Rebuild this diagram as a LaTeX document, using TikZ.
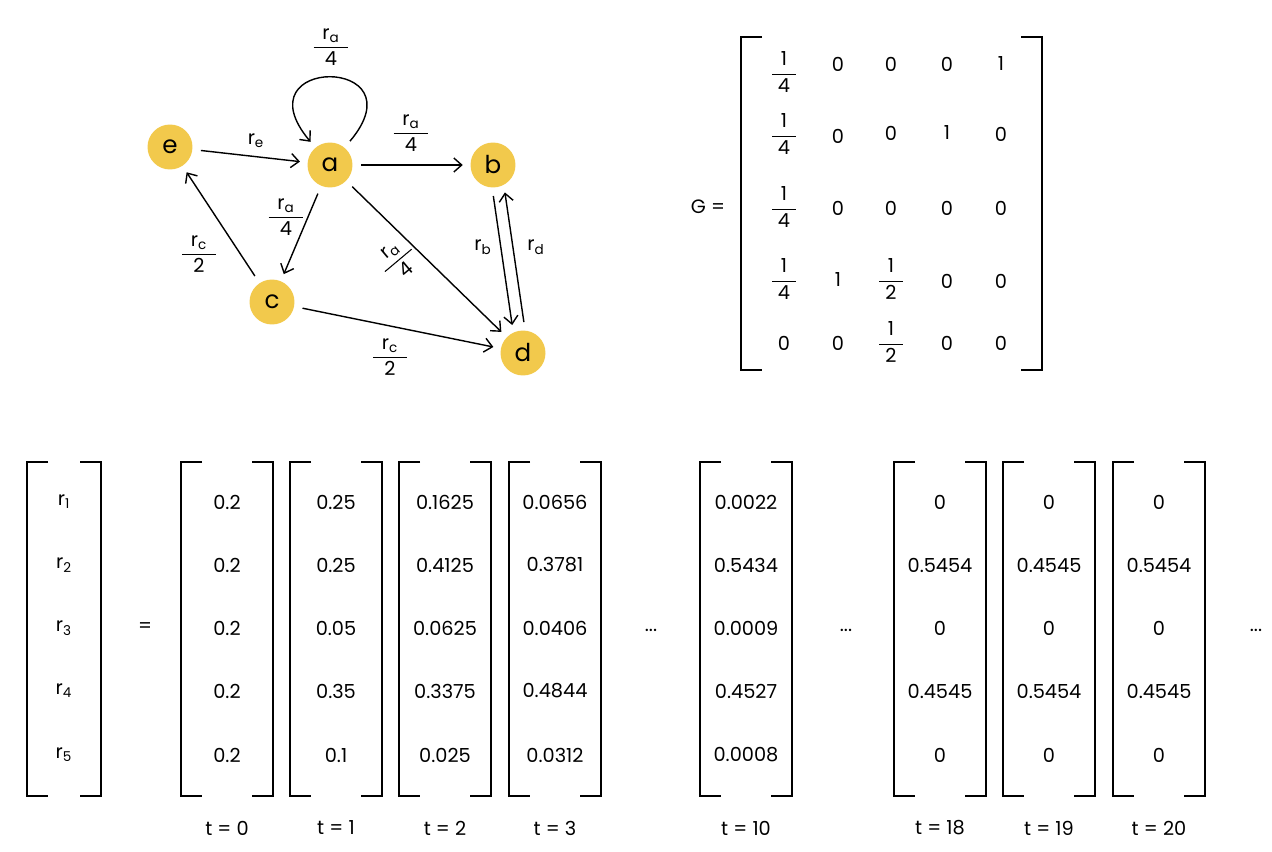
\documentclass[tikz,border=0pt]{standalone}
\usepackage{amsmath}
\usepackage{fontspec}
\setmainfont{Poppins}
\usetikzlibrary{arrows.meta}

\definecolor{nodeyellow}{HTML}{F2C94C}
\newcommand{\fr}[2]{\ensuremath{\genfrac{}{}{0.6pt}{0}{\mbox{\hspace{5pt}#1\hspace{5pt}}}{\mbox{#2}}}}
\newcommand{\rr}[1]{r\textsubscript{#1}}

\begin{document}
\begin{tikzpicture}[x=0.02cm,y=0.02cm,>={Straight Barb[length=4.5pt,width=8pt]},
  line width=0.8pt,font=\fontsize{11}{13}\selectfont,
  main node/.style={circle,fill=nodeyellow,minimum size=0.9cm,inner sep=0pt,font=\fontsize{14}{16}\selectfont},
  brk/.style={line width=1pt}]

  \useasboundingbox (0,0) rectangle (1272,-852);

  % graph
  \node[main node] (e) at (170,-147) {e};
  \node[main node] (a) at (330,-165) {a};
  \node[main node] (b) at (493,-165) {b};
  \node[main node] (c) at (272,-302) {c};
  \node[main node] (d) at (523,-353) {d};

  \path[->,shorten >=4pt,shorten <=4.5pt]
    (e) edge (a)
    (a) edge (b)
    (a) edge[out=50,in=130,distance=2.4cm] (a)
    (a) edge (c)
    (c) edge (e)
    (a) edge (d)
    (c) edge (d)
    (b.-92) edge (d.115)
    (d.85) edge (b.-62);

  \node (l-ea) at (256,-141) {\rr{e}};
  \node (l-aa) at (331,-47) {\fr{\rr{a}}{4}};
  \node (l-ab) at (411,-133) {\fr{\rr{a}}{4}};
  \node (l-ac) at (286,-217) {\fr{\rr{a}}{4}};
  \node (l-ce) at (199,-254) {\fr{\rr{c}}{2}};
  \node[rotate=40] (l-ad) at (398,-260) {\fr{\rr{a}}{4}};
  \node (l-cd) at (390,-357) {\fr{\rr{c}}{2}};
  \node (l-bd) at (483,-247) {\rr{b}};
  \node (l-db) at (536,-247) {\rr{d}};

  % matrix G
  \node (G) at (708,-207) {G =};
  \draw[brk] (762,-37) -- (741,-37) -- (741,-370) -- (762,-370);
  \draw[brk] (1021,-37) -- (1042,-37) -- (1042,-370) -- (1021,-370);

  \node (g11) at (784,-72) {\fr{1}{4}};
  \node (g12) at (838,-64) {0};
  \node (g13) at (891,-64) {0};
  \node (g14) at (947,-64) {0};
  \node (g15) at (1001,-64) {1};
  \node (g21) at (784,-134) {\fr{1}{4}};
  \node (g22) at (838,-136) {0};
  \node (g23) at (891,-133) {0};
  \node (g24) at (947,-133) {1};
  \node (g25) at (1001,-134) {0};
  \node (g31) at (784,-207) {\fr{1}{4}};
  \node (g32) at (838,-208) {0};
  \node (g33) at (891,-208) {0};
  \node (g34) at (947,-208) {0};
  \node (g35) at (1001,-208) {0};
  \node (g41) at (784,-279) {\fr{1}{4}};
  \node (g42) at (838,-280) {1};
  \node (g43) at (891,-279) {\fr{1}{2}};
  \node (g44) at (947,-281) {0};
  \node (g45) at (1001,-281) {0};
  \node (g51) at (784,-343) {0};
  \node (g52) at (838,-343) {0};
  \node (g53) at (891,-342) {\fr{1}{2}};
  \node (g54) at (947,-343) {0};
  \node (g55) at (1001,-343) {0};

  % iterations
  \draw[brk] (48,-462) -- (27,-462) -- (27,-796) -- (48,-796);
  \draw[brk] (80,-462) -- (101,-462) -- (101,-796) -- (80,-796);
  \node (r1) at (64,-502) {\rr{1}};
  \node (r2) at (64,-565) {\rr{2}};
  \node (r3) at (64,-628) {\rr{3}};
  \node (r4) at (64,-691) {\rr{4}};
  \node (r5) at (64,-755) {\rr{5}};
  \node (eq) at (145,-628) {=};

  \foreach \k/\x/\va/\vb/\vc/\vd/\ve in {
    0/227/0.2/0.2/0.2/0.2/0.2,
    1/336/0.25/0.25/0.05/0.35/0.1,
    2/445/0.1625/0.4125/0.0625/0.3375/0.025,
    3/555/0.0656/0.3781/0.0406/0.4844/0.0312,
    10/746/0.0022/0.5434/0.0009/0.4527/0.0008,
    18/940/0/0.5454/0/0.4545/0,
    19/1049/0/0.4545/0/0.5454/0,
    20/1159/0/0.5454/0/0.4545/0}
  {
    \draw[brk] (\x-25,-462) -- (\x-46,-462) -- (\x-46,-796) -- (\x-25,-796);
    \draw[brk] (\x+25,-462) -- (\x+46,-462) -- (\x+46,-796) -- (\x+25,-796);
    \node (v\k-1) at (\x,-502) {\va};
    \node (v\k-2) at (\x,-565) {\vb};
    \node (v\k-3) at (\x,-628) {\vc};
    \node (v\k-4) at (\x,-691) {\vd};
    \node (v\k-5) at (\x,-755) {\ve};
    \node (t\k) at (\x,-828) {t = \k};
  }

  \node (dots1) at (651,-630) {...};
  \node (dots2) at (846,-630) {...};
  \node (dots3) at (1256,-630) {...};

\end{tikzpicture}
\end{document}
